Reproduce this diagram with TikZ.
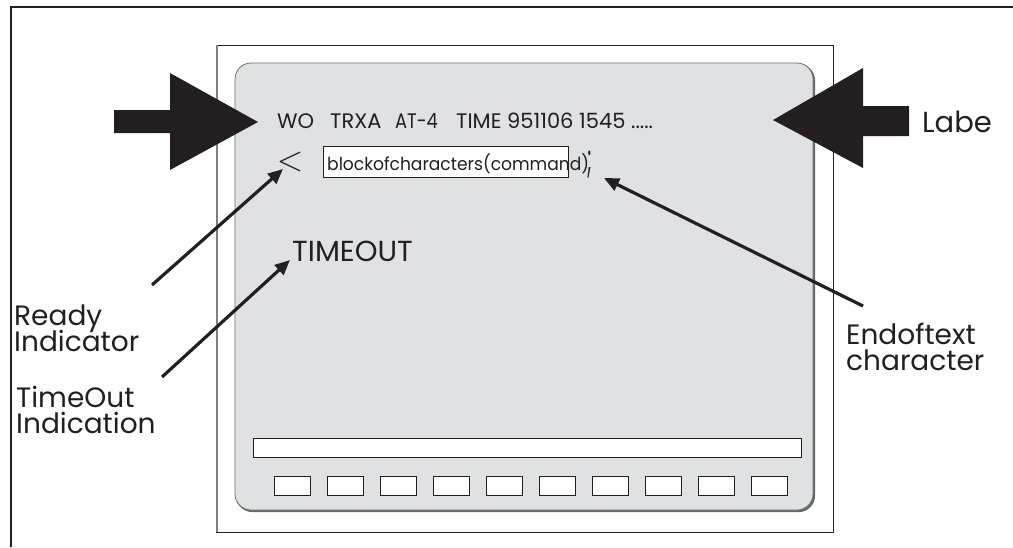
\documentclass[tikz,border=0pt]{standalone}
\usepackage{fontspec}
\setmainfont{Poppins}
\usetikzlibrary{arrows.meta}
\definecolor{screenfill}{HTML}{E0E1E3}
\definecolor{ink}{HTML}{231F20}
\definecolor{rim}{HTML}{6D6E70}
\newcommand{\lblfont}{\fontsize{28}{26}\selectfont\lineskiplimit=-50pt\relax\lineskip=0pt\relax}
\begin{document}
\begin{tikzpicture}[x=1pt,y=-1pt,
  conn/.style={draw=ink, line width=3.2pt, -{Triangle[length=15pt,width=13pt]}},
  bigarrow/.style={fill=ink, draw=none},
  lbl/.style={font=\lblfont, align=left, inner sep=0pt, text=ink},
  toptext/.style={font=\fontsize{21}{21}\selectfont, inner sep=0pt, text=ink, anchor=base west},
  softkey/.style={draw=ink, fill=white, line width=0.8pt},
]
\useasboundingbox (0,0) rectangle (1013,547);
% outer frame
\draw[line width=2.2pt, ink] (11,547) -- (11,7) -- (1013,7);
% inner frame
\draw[line width=0.9pt, ink] (216,45) rectangle (833,532);
\draw[line width=2pt, gray] (217,45) -- (217,532);
% screen
\draw[rounded corners=16pt, line width=1.2pt, draw=gray!80!black, fill=gray!80!black] (236.5,64.5) rectangle (814.5,511.5);
\draw[rounded corners=16pt, line width=0.8pt, draw=rim, fill=screenfill] (235,63) rectangle (813,510);
% bottom bar and soft keys
\draw[softkey] (253,438) rectangle (801,457);
\foreach \i in {0,...,9} {
  \draw[softkey] ({274+\i*53},476) rectangle ({310+\i*53},495);
}
% big arrows
\fill[bigarrow] (114,110) -- (170,110) -- (170,73) -- (258,122) -- (170,170) -- (170,133) -- (114,133) -- cycle;
\fill[bigarrow] (909,106) -- (863,106) -- (863,68) -- (773,120) -- (863,168) -- (863,136) -- (909,136) -- cycle;
% top line of text
\node[toptext] (wo) at (277,128) {WO};
\node[toptext] (trxa) at (330,128) {TRXA};
\node[toptext] (at4) at (395,128) {\scalebox{0.85}[1]{AT-4}};
\node[toptext] (time) at (456,128) {TIME 951106 1545 .....};
% prompt line
\node[inner sep=0pt, text=ink] (prompt) at (290,162) {\scalebox{3.4}{$<$}};
\draw[draw=ink, fill=white, line width=0.8pt] (323,146) rectangle (568,177);
\node[font=\fontsize{18}{18}\selectfont, inner sep=0pt, text=ink, anchor=base west] (cmd) at (327,170) {\scalebox{0.95}[1]{blockofcharacters(command)}};
\node[font=\fontsize{18}{18}\selectfont, inner sep=0pt, text=ink] (semi) at (590,164) {\scalebox{1}[2.2]{;}};
% TIMEOUT
\node[lbl, font=\fontsize{29}{29}\selectfont, anchor=base west] (timeout) at (292,261) {TIMEOUT};
% labels
\node[lbl, font=\fontsize{29}{29}\selectfont, anchor=base west] (labe) at (922,132) {Labe};
\node[lbl, anchor=base west] (ready) at (14,351) {Ready\\Indicator};
\node[lbl, anchor=base west] (tolbl) at (16,433) {TimeOut\\Indication};
\node[lbl, anchor=base west] (eot) at (846,370) {Endoftext\\character};
% connectors
\coordinate (readytail) at (152,285);
\coordinate (readytip) at (283,169);
\coordinate (totail) at (162,377);
\coordinate (totip) at (290,260);
\coordinate (eottail) at (863,306);
\coordinate (eottip) at (604,178);
\draw[conn] (readytail) -- (readytip);
\draw[conn] (totail) -- (totip);
\draw[conn] (eottail) -- (eottip);
\end{tikzpicture}
\end{document}
